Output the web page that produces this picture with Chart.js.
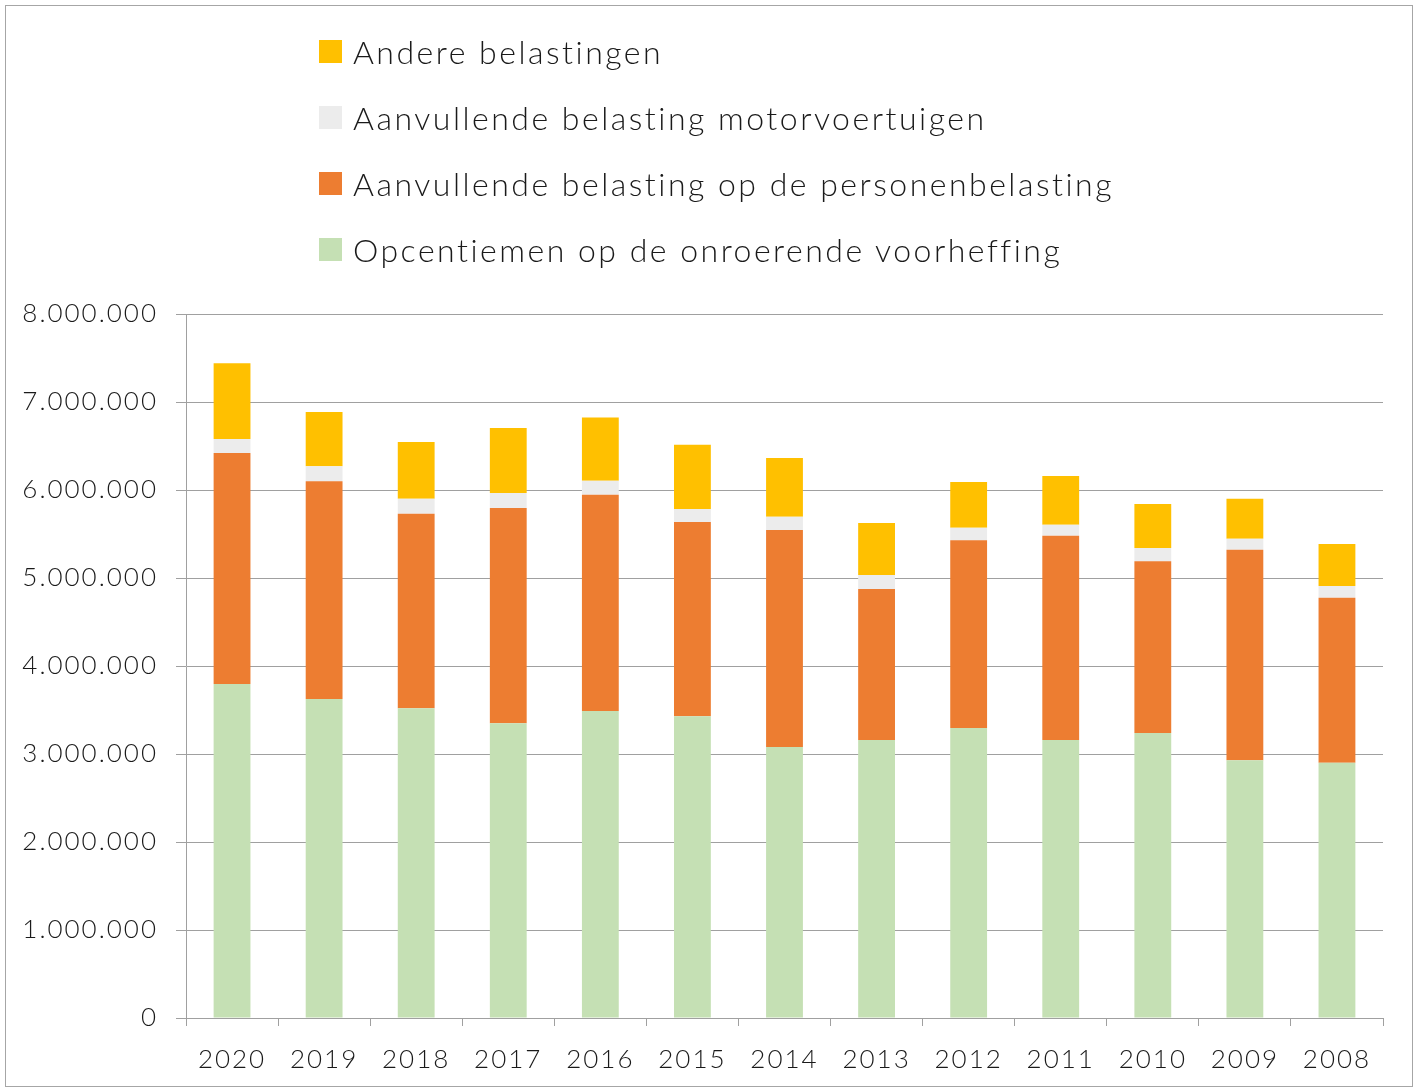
<!DOCTYPE html>
<html>
<head>
<meta charset="utf-8">
<script src="https://cdn.jsdelivr.net/npm/chart.js@4"></script>
<style>
  html, body { margin: 0; padding: 0; background: #fff; }
  body { width: 1421px; height: 1090px; position: relative; overflow: hidden; font-family: Lato, "Open Sans", sans-serif; }
  .frame { position: absolute; left: 5px; top: 5px; width: 1408px; height: 1082px; border: 1px solid #a6a6a6; box-sizing: border-box; }
  .chart_box { position: absolute; left: 0; top: 0; width: 1421px; height: 1090px; }
  .legend { position: absolute; left: 319px; top: 18px; margin: 0; padding: 0; list-style: none; }
  .legend li { height: 66px; display: flex; align-items: center; font-size: 32px; font-weight: 300; letter-spacing: 2.5px; color: #1a1a1a; white-space: nowrap; }
  .legend span { display: inline-block; width: 23px; height: 23px; margin-right: 11px; }
</style>
</head>
<body>
<div class="frame"></div>
<div class="chart_box"><canvas id="myChart" width="1421" height="1090"></canvas></div>
<ul class="legend" id="legend"></ul>
<script>
// years and values
var years = ["2020", "2019", "2018", "2017", "2016", "2015", "2014", "2013", "2012", "2011", "2010", "2009", "2008"];

var opcentiemen = [3795000, 3625000, 3520000, 3350000, 3490000, 3430000, 3080000, 3160000, 3295000, 3160000, 3240000, 2930000, 2900000];
var personenbelasting = [2625000, 2475000, 2210000, 2445000, 2455000, 2205000, 2465000, 1715000, 2135000, 2320000, 1950000, 2390000, 1875000];
var motorvoertuigen = [160000, 170000, 170000, 170000, 160000, 150000, 150000, 160000, 140000, 125000, 150000, 125000, 135000];
var andere = [860000, 615000, 645000, 740000, 720000, 730000, 670000, 590000, 520000, 555000, 500000, 455000, 475000];

var yTicks = [0, 1000000, 2000000, 3000000, 4000000, 5000000, 6000000, 7000000, 8000000];

var datasets = [
  { label: "Opcentiemen op de onroerende voorheffing", data: opcentiemen, backgroundColor: "#c5e0b4" },
  { label: "Aanvullende belasting op de personenbelasting", data: personenbelasting, backgroundColor: "#ed7d31" },
  { label: "Aanvullende belasting motorvoertuigen", data: motorvoertuigen, backgroundColor: "#ececec" },
  { label: "Andere belastingen", data: andere, backgroundColor: "#ffc000" },
];

// legend as html, top item is the last dataset
var legend = document.getElementById("legend");
datasets.slice().reverse().forEach((ds) => {
  var li = document.createElement("li");
  var box = document.createElement("span");
  box.style.background = ds.backgroundColor;
  li.appendChild(box);
  li.appendChild(document.createTextNode(ds.label));
  legend.appendChild(li);
});

function fmt(v) {
  return v.toString().replace(/\B(?=(\d{3})+(?!\d))/g, ".");
}

// wider letters on the canvas, like the original font
var spacing = {
  id: "spacing",
  beforeDraw: (chart) => {
    chart.ctx.letterSpacing = "2px";
  },
};

var ctx = document.getElementById("myChart").getContext("2d");
var myChart = new Chart(ctx, {
  type: "bar",
  data: {
    labels: years,
    datasets: datasets.map((ds) => ({
      label: ds.label,
      data: ds.data,
      backgroundColor: ds.backgroundColor,
      borderWidth: 0,
      barPercentage: 0.4,
      categoryPercentage: 1,
    })),
  },
  plugins: [spacing],
  options: {
    responsive: false,
    animation: false,
    layout: { padding: { top: 314, right: 38, left: 0, bottom: 0 } },
    plugins: { legend: { display: false }, tooltip: { enabled: false } },
    scales: {
      x: {
        stacked: true,
        afterFit: (scale) => { scale.height = 72; },
        grid: { offset: true, drawOnChartArea: false, drawTicks: true, tickLength: 8, color: "#a0a0a0" },
        border: { color: "#a0a0a0" },
        ticks: { color: "#1a1a1a", padding: 18, font: { family: "Lato", size: 26, weight: 300 } },
      },
      y: {
        stacked: true,
        min: 0,
        max: 8000000,
        afterFit: (scale) => { scale.width = 186; },
        afterBuildTicks: (scale) => { scale.ticks = yTicks.map((v) => ({ value: v })); },
        grid: { color: "#a0a0a0", tickLength: 10 },
        border: { color: "#a0a0a0" },
        ticks: {
          color: "#1a1a1a",
          padding: 18,
          font: { family: "Lato", size: 26, weight: 300 },
          callback: (v) => fmt(v),
        },
      },
    },
  },
});
</script>
</body>
</html>
